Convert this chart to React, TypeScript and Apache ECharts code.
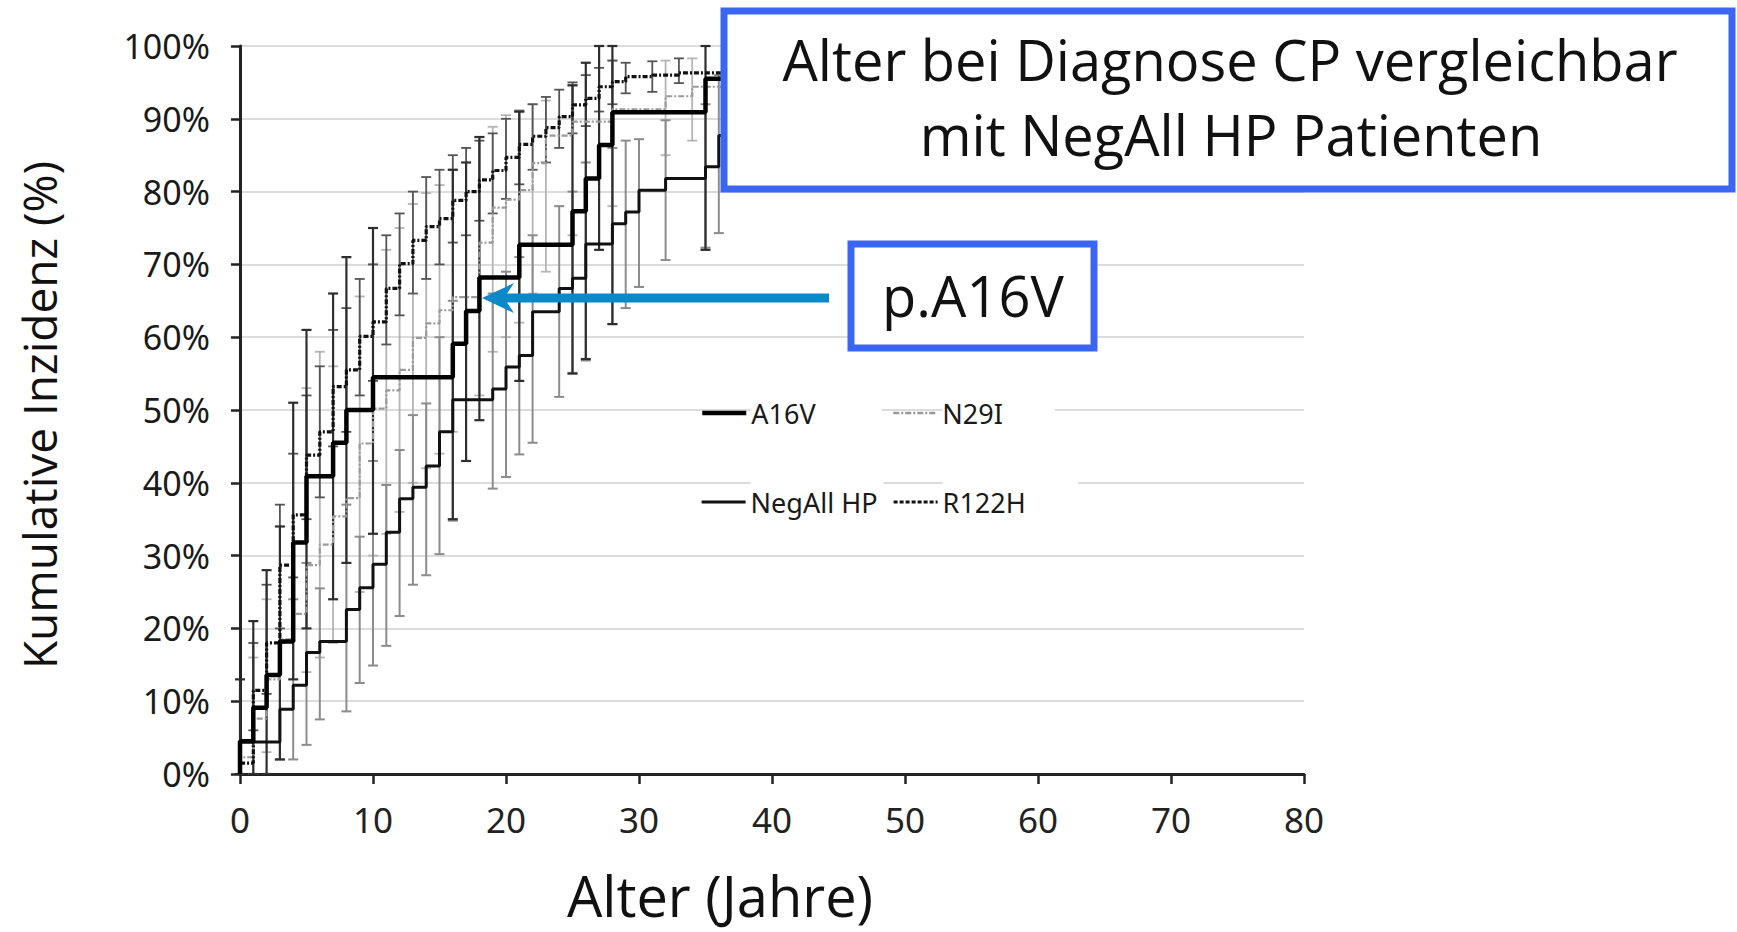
import React, { useEffect, useRef } from "react";
import * as echarts from "echarts";

// ---- Data ----
const xTicks = [0, 10, 20, 30, 40, 50, 60, 70, 80];
const yTicks = [0, 10, 20, 30, 40, 50, 60, 70, 80, 90, 100];

const a16vAge = [0, 0, 1, 2, 3, 4, 5, 7, 8, 10, 16, 17, 18, 21, 25, 26, 27, 28, 35, 38];
const a16vPct = [0, 4.5, 9.1, 13.6, 18.2, 31.8, 40.9, 45.5, 50, 54.5, 59.1, 63.6, 68.2, 72.7, 77.3, 81.8, 86.4, 90.9, 95.5, 95.5];

const negAge = [0, 0, 3, 4, 5, 6, 8, 9, 10, 11, 12, 13, 14, 15, 16, 19, 20, 21, 22, 24, 25, 26, 28, 29, 30, 32, 35, 36, 38];
const negPct = [0, 4.4, 8.9, 12.2, 16.7, 18.2, 22.6, 25.6, 28.8, 33.2, 37.8, 39.4, 42.3, 47.0, 51.4, 52.9, 55.9, 57.5, 63.5, 66.7, 68.1, 72.8, 75.6, 77.2, 80.2, 81.8, 83.4, 87.7, 87.7];

const n29iAge = [0, 0, 1, 2, 3, 4, 5, 6, 7, 8, 9, 10, 11, 12, 13, 14, 15, 16, 18, 19, 20, 21, 22, 23, 25, 28, 32, 34, 38];
const n29iPct = [0, 2.3, 7.6, 13.0, 18.5, 22.0, 28.7, 31.5, 35.4, 37.9, 45.4, 50.2, 52.7, 55.5, 59.9, 61.9, 63.7, 65.5, 73.0, 77.8, 78.9, 80.2, 83.9, 87.7, 89.6, 91.3, 93.1, 94.4, 94.4];

const r122hAge = [0, 0, 1, 2, 3, 4, 5, 6, 7, 8, 9, 10, 11, 12, 13, 14, 15, 16, 17, 18, 19, 20, 21, 22, 23, 24, 25, 26, 27, 28, 29, 31, 33, 38];
const r122hPct = [0, 1.5, 11.5, 18.0, 28.7, 35.6, 43.8, 47.0, 53.2, 55.5, 60.1, 62.1, 66.7, 70.1, 73.3, 75.2, 76.3, 78.8, 80.0, 81.6, 82.9, 84.7, 86.5, 87.6, 88.8, 90.3, 91.9, 92.8, 94.4, 95.1, 95.8, 96.0, 96.3, 96.3];

// error bars: [age, low, high]
const a16vCI = [
  [0, 0, 13], [1, 0, 21], [2, 0, 28], [3, 2, 34], [4, 13, 51], [5, 20, 61], [7, 24, 66], [8, 29, 71],
  [10, 33, 75], [16, 35, 83], [17, 43, 84], [18, 48.6, 87.5], [21, 54, 91], [25, 55, 94.6], [26, 57, 97.7],
  [27, 72, 100], [28, 61.8, 100], [35, 72, 100],
];
const negCI = [
  [3, 2, 18], [4, 2, 24], [5, 4, 29], [6, 7.5, 25.5], [8, 8.6, 37], [9, 12.5, 32.6], [10, 14.9, 43],
  [11, 17.6, 39.7], [12, 21.7, 44.5], [13, 26, 49.3], [14, 27.3, 50.9], [15, 30.2, 60], [16, 34.8, 65],
  [19, 39.2, 66], [20, 40.8, 69], [21, 43.9, 71], [22, 45.5, 74], [24, 51.8, 78], [25, 55.1, 80],
  [26, 56.8, 84], [28, 61.8, 86], [29, 64, 87], [30, 66.9, 87.2], [32, 70.6, 89.8], [35, 72.3, 92], [36, 74.3, 96],
];
const n29iCI = [
  [1, 0, 16], [2, 3, 24], [5, 14, 53], [6, 16, 58], [7, 18, 56], [9, 25, 65.6], [10, 30, 70], [11, 33, 72],
  [12, 36, 75], [13, 40, 78.3], [14, 42, 79.8], [15, 44, 80.9], [16, 47, 83], [18, 52, 87.5], [19, 58, 88.9],
  [20, 60, 90.5], [21, 62, 91.2], [22, 66, 92], [23, 69, 92.5], [25, 74, 94.6], [28, 78, 98], [32, 85, 98], [34, 87, 98.3],
];
const r122hCI = [
  [1, 6, 18], [2, 11, 26], [3, 20, 37], [4, 27, 44], [5, 35, 52], [6, 38, 56], [7, 45, 61], [8, 47, 64],
  [9, 52, 68], [10, 54, 70], [11, 59, 74], [12, 63, 77], [13, 66, 80], [14, 68, 82], [15, 70, 83], [16, 73, 85],
  [17, 74, 86], [18, 76, 87], [19, 77, 88], [20, 79, 90], [21, 81, 91], [22, 83, 92], [23, 84, 93], [24, 86, 94],
  [25, 88, 95], [26, 89, 96], [27, 91, 97], [28, 92, 98], [29, 93.5, 97.7], [31, 93.7, 97.9], [33, 94.9, 98.3],
];

const titleLine1 = "Alter bei Diagnose CP vergleichbar";
const titleLine2 = "mit NegAll HP Patienten";
const arrowLabel = "p.A16V";

function pairs(ages: number[], pct: number[]) {
  return ages.map((a, i) => [a, pct[i]]);
}

function barSeries(name: string, data: number[][], color: string, width: number) {
  return {
    type: "custom",
    name,
    data,
    encode: { x: 0, y: [1, 2] },
    z: 1,
    silent: true,
    renderItem: (params: any, api: any) => {
      const x = api.value(0);
      const lo = api.coord([x, api.value(1)]);
      const hi = api.coord([x, api.value(2)]);
      const c = 5;
      const style = { stroke: color, lineWidth: width };
      return {
        type: "group",
        children: [
          { type: "line", shape: { x1: lo[0], y1: lo[1], x2: hi[0], y2: hi[1] }, style },
          { type: "line", shape: { x1: lo[0] - c, y1: lo[1], x2: lo[0] + c, y2: lo[1] }, style },
          { type: "line", shape: { x1: hi[0] - c, y1: hi[1], x2: hi[0] + c, y2: hi[1] }, style },
        ],
      };
    },
  };
}

const legendFont = { fontSize: 27, fontFamily: "Noto Sans", color: "#1a1a1a", lineHeight: 30, backgroundColor: "#fff" };

function oneLegend(name: string, left: number, top: number, padRight: number, line: any) {
  return {
    data: [name],
    left,
    top,
    orient: "horizontal",
    padding: 0,
    itemWidth: 44,
    itemHeight: 14,
    itemGap: 0,
    selectedMode: false,
    itemStyle: { opacity: 0 },
    lineStyle: line,
    textStyle: { ...legendFont, padding: [12, padRight, 12, 0] },
  };
}

export default function App() {
  const ref = useRef<HTMLDivElement>(null);
  useEffect(() => {
    if (!ref.current) return;
    const chart = echarts.init(ref.current, undefined, { renderer: "svg" });
    const blue = "#3b66f3";
    const arrowBlue = "#0a88c8";
    chart.setOption({
      animation: false,
      backgroundColor: "#fff",
      grid: { left: 240, top: 46, width: 1064, height: 728 },
      xAxis: {
        type: "value",
        min: xTicks[0],
        max: xTicks[xTicks.length - 1],
        interval: 10,
        axisLine: { show: true, lineStyle: { color: "#222", width: 3 } },
        axisTick: { show: true, length: 10, lineStyle: { color: "#222", width: 2.5 } },
        axisLabel: { fontSize: 35, color: "#222", margin: 28, fontFamily: "Noto Sans" },
        splitLine: { show: false },
      },
      yAxis: {
        type: "value",
        min: yTicks[0],
        max: yTicks[yTicks.length - 1],
        interval: 10,
        axisLine: { show: true, lineStyle: { color: "#222", width: 3 } },
        axisTick: { show: true, length: 9, lineStyle: { color: "#222", width: 2.5 } },
        axisLabel: { fontSize: 34, color: "#1a1a1a", margin: 30, fontFamily: "Noto Sans", formatter: "{value}%" },
        splitLine: { show: true, lineStyle: { color: "#dcdcdc", width: 2 } },
      },
      legend: [
        oneLegend("A16V", 700, 386, 66, { width: 4.5, color: "#000" }),
        oneLegend("N29I", 892, 386, 52, { width: 2.5, color: "#999", type: [6, 2, 2, 2] }),
        oneLegend("NegAll HP", 700, 475, 6, { width: 3.2, color: "#111" }),
        oneLegend("R122H", 892, 475, 52, { width: 3.2, color: "#111", type: [4, 2] }),
      ],
      series: [
        barSeries("CI N29I", n29iCI, "#b4b4b4", 1.8),
        barSeries("CI NegAll HP", negCI, "#8c8c8c", 2),
        barSeries("CI R122H", r122hCI, "#555", 1.8),
        barSeries("CI A16V", a16vCI, "#2e2e2e", 2.2),
        {
          type: "line", name: "N29I", step: "end", symbol: "none", showSymbol: false, z: 3,
          data: pairs(n29iAge, n29iPct),
          lineStyle: { color: "#9a9a9a", width: 2.2, type: [6, 2, 2, 2] },
          itemStyle: { color: "#9a9a9a" },
        },
        {
          type: "line", name: "NegAll HP", step: "end", symbol: "none", showSymbol: false, z: 4,
          data: pairs(negAge, negPct),
          lineStyle: { color: "#111", width: 3 },
          itemStyle: { color: "#111" },
        },
        {
          type: "line", name: "R122H", step: "end", symbol: "none", showSymbol: false, z: 4,
          data: pairs(r122hAge, r122hPct),
          lineStyle: { color: "#111", width: 3.2, type: [5, 2, 2, 2] },
          itemStyle: { color: "#111" },
        },
        {
          type: "line", name: "A16V", step: "end", symbol: "none", showSymbol: false, z: 5,
          data: pairs(a16vAge, a16vPct),
          lineStyle: { color: "#000", width: 4.5 },
          itemStyle: { color: "#000" },
        },
      ],
      graphic: [
        {
          type: "text", x: 39, y: 415, rotation: Math.PI / 2, z: 100,
          style: { text: "Kumulative Inzidenz (%)", fontSize: 46, fontFamily: "Open Sans", fill: "#111", align: "center", verticalAlign: "middle" },
        },
        {
          type: "text", x: 720, y: 895, z: 100,
          style: { text: "Alter (Jahre)", fontSize: 56, lineHeight: 58, fontFamily: "Open Sans", fill: "#111", align: "center", verticalAlign: "middle" },
        },
        {
          type: "rect", z: 100,
          shape: { x: 724, y: 11, width: 1008, height: 178 },
          style: { fill: "#fff", stroke: blue, lineWidth: 7 },
        },
        {
          type: "text", x: 1230, y: 59, z: 101,
          style: { text: titleLine1, fontSize: 56, fontFamily: "Open Sans", fill: "#111", align: "center", verticalAlign: "middle" },
        },
        {
          type: "text", x: 1231, y: 134, z: 101,
          style: { text: titleLine2, fontSize: 56, fontFamily: "Open Sans", fill: "#111", align: "center", verticalAlign: "middle" },
        },
        {
          type: "rect", z: 100,
          shape: { x: 851, y: 244, width: 243, height: 104 },
          style: { fill: "#fff", stroke: blue, lineWidth: 7 },
        },
        {
          type: "text", x: 973, y: 295, z: 101,
          style: { text: arrowLabel, fontSize: 56, fontFamily: "Open Sans", fill: "#111", align: "center", verticalAlign: "middle" },
        },
        {
          type: "line", z: 100,
          shape: { x1: 829, y1: 298, x2: 500, y2: 298 },
          style: { stroke: arrowBlue, lineWidth: 9 },
        },
        {
          type: "polygon", z: 100,
          shape: { points: [[482, 298], [514, 283], [504, 298], [514, 313]] },
          style: { fill: arrowBlue },
        },
      ],
    });
    return () => chart.dispose();
  }, []);
  return (
    <div
      ref={ref}
      style={{ position: "absolute", left: 0, top: 0, width: 1737, height: 932, background: "#fff" }}
    />
  );
}
